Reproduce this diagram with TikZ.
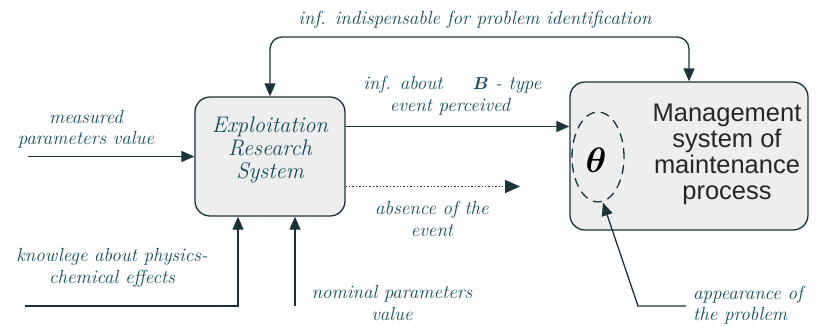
\documentclass[tikz,border=0pt]{standalone}
\usepackage{amsmath}
\usepackage{fontspec}
\newfontfamily\arialfont{Liberation Sans}
\usetikzlibrary{arrows.meta,positioning,shapes.geometric}
\definecolor{ink}{HTML}{134C58}
\definecolor{lineclr}{HTML}{1A3338}
\definecolor{boxfill}{HTML}{EEEEEE}
\tikzset{
  lbl/.style={text=ink,font=\fontsize{19}{21.5}\selectfont\itshape,align=center,inner sep=0pt},
  sysbox/.style={draw=lineclr,rounded corners=15pt,fill=boxfill,line width=1.3pt},
  flow/.style={draw=lineclr,line width=1.3pt,-{Triangle[length=13pt,width=11pt]}},
}
\begin{document}
\begin{tikzpicture}[x=1pt,y=-1pt]
      \useasboundingbox (0,0) rectangle (822,325);
      % the two systems
      \node[sysbox,minimum width=150pt,minimum height=119pt] (ers) at (270,156.5) {};
      \node[text=ink,font=\fontsize{22.5}{23}\selectfont\itshape,align=center] (erstext) at (270,150) {Exploitation\\Research\\System};
      \node[sysbox,minimum width=238pt,minimum height=148pt] (ms) at (689,156) {};
      \node[text=black!85,font=\arialfont\fontsize{25.5}{26}\selectfont,align=center] (mstext) at (727,154) {Management\\system of\\maintenance\\process};
      \node[draw=lineclr,dashed,dash pattern=on 9pt off 6pt,line width=1.3pt,ellipse,minimum width=52pt,minimum height=90pt] (theta) at (598,157) {};
      \node[scale=1.7,font=\fontsize{20}{20}\selectfont] (thetasym) at (596,160) {$\boldsymbol{\theta}$};
      % feedback on top
      \coordinate (topbend) at (480,37);
      \draw[flow,{Triangle[length=13pt,width=11pt]}-{Triangle[length=13pt,width=11pt]},rounded corners=12pt] (ers.north) |- (topbend) -| (ms.north);
      \node[lbl] (toplbl) at (475,20) {inf. indispensable for problem identification};
      % information about the event
      \draw[flow] ([yshift=30pt]ers.east) -- ([yshift=30pt]ers.east -| ms.west);
      \node[lbl] (infab) at (403,85) {inf. about};
      \node[lbl] (btype) at (507,85) {$\boldsymbol{B}$ - type};
      \node[lbl] (evper) at (450,107) {event perceived};
      \coordinate (absend) at (520,186.5);
      \draw[draw=lineclr,dotted,line width=1.4pt,-{Triangle[length=15pt,width=13pt]}] ([yshift=-30pt]ers.east) -- (absend);
      \node[lbl] (abslbl) at (432,219) {absence of the\\event};
      % inputs
      \coordinate (mpv) at (28,156.5);
      \draw[flow] (mpv) -- (ers.west);
      \node[lbl] (mpvlbl) at (86,129) {measured\\parameters value};
      \coordinate (knw) at (25,306);
      \draw[flow] (knw) -| ([xshift=-32pt]ers.south);
      \node[lbl] (knwlbl) at (112,268) {knowlege about physics-\\chemical effects};
      \coordinate (nom) at (295,306);
      \draw[flow] (nom) -- (nom |- ers.south);
      \node[lbl] (nomlbl) at (392,303) {nominal parameters\\value};
      % problem appearance
      \coordinate (app) at (686,306);
      \draw[flow] (app) -- (638,306) -- ([xshift=5pt]theta.south);
      \node[lbl,anchor=west,align=left] (applbl) at (693,305) {appearance of\\the problem};
    \end{tikzpicture}
\end{document}
